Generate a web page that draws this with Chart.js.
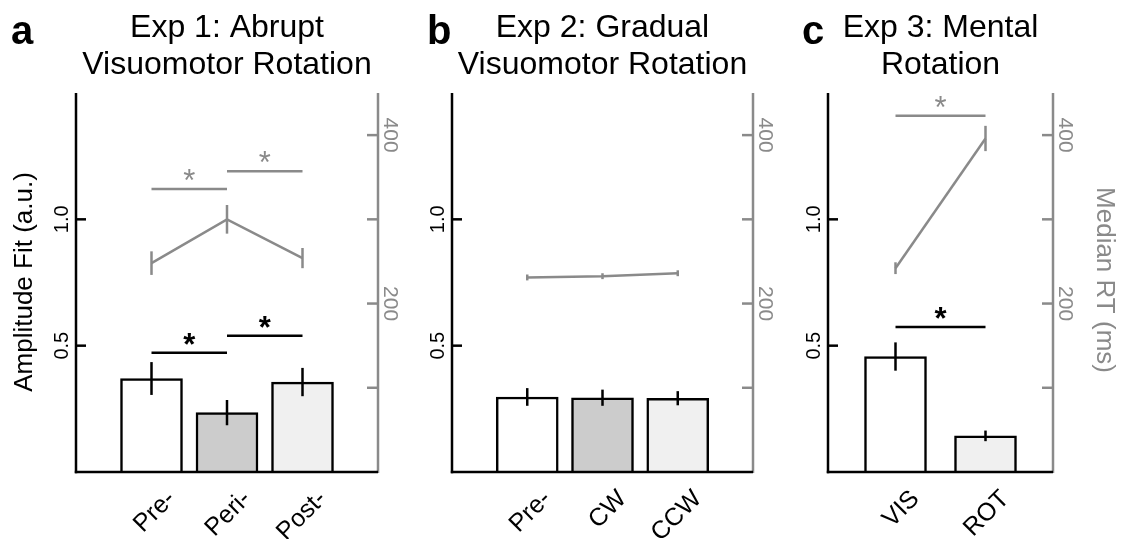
<!DOCTYPE html>
<html><head><meta charset="utf-8">
<script src="https://cdn.jsdelivr.net/npm/chart.js@4/dist/chart.umd.min.js"></script>
<style>
html,body{margin:0;padding:0;background:#fff;}
#wrap{position:relative;width:1121px;height:539px;overflow:hidden;background:#fff;}
.pane{position:absolute;top:0;height:539px;}
canvas{display:block;}
</style></head><body>
<div id="wrap">
<div class="pane" style="left:0px;width:400px"><canvas id="ca" width="400" height="539"></canvas></div>
<div class="pane" style="left:400px;width:380px"><canvas id="cb" width="380" height="539"></canvas></div>
<div class="pane" style="left:780px;width:341px"><canvas id="cc" width="341" height="539"></canvas></div>
</div>
<script>
// ---------------- data ----------------
const expA_categories = ['Pre-', 'Peri-', 'Post-'];
const expA_amp = [0.37, 0.235, 0.356];
const expA_ampErr = [0.065, 0.05, 0.056];
const expA_rt = [248, 300, 254];
const expA_rtErr = [14, 17, 12];
const expA_ampSig = [[0, 1, 0.472], [1, 2, 0.539]];
const expA_rtSig = [[0, 1, 336], [1, 2, 357]];

const expB_categories = ['Pre-', 'CW', 'CCW'];
const expB_amp = [0.297, 0.294, 0.292];
const expB_ampErr = [0.035, 0.032, 0.028];
const expB_rt = [231, 232.5, 236];
const expB_rtErr = [3.5, 3.5, 3.5];
const expB_ampSig = [];
const expB_rtSig = [];

const expC_categories = ['VIS', 'ROT'];
const expC_amp = [0.457, 0.143];
const expC_ampErr = [0.056, 0.021];
const expC_rt = [242, 396];
const expC_rtErr = [7, 15];
const expC_ampSig = [[0, 1, 0.574]];
const expC_rtSig = [[0, 1, 423]];

const ampTicks = [0.5, 1.0];
const ampTickLabels = ['0.5', '1.0'];
const rtTicks = [100, 200, 300, 400];
const rtTickLabels = ['', '200', '', '400'];
const ampRange = [0, 1.5];
const rtRange = [0, 450];

// ---------------- styles ----------------
const GRAY = '#8a8a8a';
const FONT = '"Liberation Sans", Arial, Helvetica, sans-serif';
const LW = 2.5;

const panels = [
  {canvas:'ca', letter:'a', title:['Exp 1: Abrupt','Visuomotor Rotation'], cats:expA_categories,
   amp:expA_amp, ampErr:expA_ampErr, rt:expA_rt, rtErr:expA_rtErr, ampSig:expA_ampSig, rtSig:expA_rtSig,
   colors:['#ffffff','#cccccc','#f0f0f0'], xr:[0,4], pad:{left:76,right:22,top:93,bottom:67},
   leftTitle:'Amplitude Fit (a.u.)', rightTitle:null, letterX:11},
  {canvas:'cb', letter:'b', title:['Exp 2: Gradual','Visuomotor Rotation'], cats:expB_categories,
   amp:expB_amp, ampErr:expB_ampErr, rt:expB_rt, rtErr:expB_rtErr, ampSig:expB_ampSig, rtSig:expB_rtSig,
   colors:['#ffffff','#cccccc','#f0f0f0'], xr:[0,4], pad:{left:52,right:27,top:93,bottom:67},
   leftTitle:null, rightTitle:null, letterX:27},
  {canvas:'cc', letter:'c', title:['Exp 3: Mental','Rotation'], cats:expC_categories,
   amp:expC_amp, ampErr:expC_ampErr, rt:expC_rt, rtErr:expC_rtErr, ampSig:expC_ampSig, rtSig:expC_rtSig,
   colors:['#ffffff','#f0f0f0'], xr:[0.25,2.75], pad:{left:48,right:68,top:93,bottom:67},
   leftTitle:null, rightTitle:'Median RT (ms)', letterX:22}
];

function line(ctx, x1, y1, x2, y2, color, w) {
  ctx.save(); ctx.strokeStyle = color; ctx.lineWidth = w; ctx.lineCap = 'butt';
  ctx.beginPath(); ctx.moveTo(x1, y1); ctx.lineTo(x2, y2); ctx.stroke(); ctx.restore();
}
function rtext(ctx, txt, x, y, angle, font, color, align, base) {
  ctx.save(); ctx.translate(x, y); ctx.rotate(angle);
  ctx.font = font; ctx.fillStyle = color; ctx.textAlign = align || 'center'; ctx.textBaseline = base || 'middle';
  ctx.fillText(txt, 0, 0); ctx.restore();
}

function makePlugin(p) {
  return {
    id: 'deco_' + p.canvas,
    afterDatasetsDraw(chart) {
      const ctx = chart.ctx, xs = chart.scales.x, ys = chart.scales.y, y2 = chart.scales.y2;
      const ca = chart.chartArea;
      // error bars
      p.amp.forEach((v, i) => {
        const x = xs.getPixelForValue(i + 1);
        line(ctx, x, ys.getPixelForValue(v - p.ampErr[i]), x, ys.getPixelForValue(v + p.ampErr[i]), '#000', LW);
      });
      p.rt.forEach((v, i) => {
        const x = xs.getPixelForValue(i + 1);
        line(ctx, x, y2.getPixelForValue(v - p.rtErr[i]), x, y2.getPixelForValue(v + p.rtErr[i]), GRAY, LW);
      });
      // significance stars
      p.ampSig.forEach(s => {
        const xm = (xs.getPixelForValue(s[0] + 1) + xs.getPixelForValue(s[1] + 1)) / 2;
        rtext(ctx, '*', xm, ys.getPixelForValue(s[2]) + 2, 0, 'bold 31px ' + FONT, '#000', 'center', 'alphabetic');
      });
      p.rtSig.forEach(s => {
        const xm = (xs.getPixelForValue(s[0] + 1) + xs.getPixelForValue(s[1] + 1)) / 2;
        rtext(ctx, '*', xm, y2.getPixelForValue(s[2]) + 2, 0, '31px ' + FONT, GRAY, 'center', 'alphabetic');
      });
      // axes
      line(ctx, ca.right, ca.top, ca.right, ca.bottom + 1, GRAY, LW);
      line(ctx, ca.left, ca.top, ca.left, ca.bottom + 1.2, '#000', LW);
      line(ctx, ca.left - 1.2, ca.bottom, ca.right, ca.bottom, '#000', LW);
      ampTicks.forEach((t, i) => {
        const y = ys.getPixelForValue(t);
        line(ctx, ca.left, y, ca.left + 10, y, '#000', LW);
        rtext(ctx, ampTickLabels[i], ca.left - 14, y, -Math.PI / 2, '20px ' + FONT, '#000');
      });
      rtTicks.forEach((t, i) => {
        const y = y2.getPixelForValue(t);
        line(ctx, ca.right - 11, y, ca.right, y, GRAY, LW);
        if (rtTickLabels[i]) rtext(ctx, rtTickLabels[i], ca.right + 12, y, Math.PI / 2, '21px ' + FONT, GRAY);
      });
      // x labels
      p.cats.forEach((c, i) => {
        const x = xs.getPixelForValue(i + 1);
        rtext(ctx, c, x + 20, ca.bottom + 23, -Math.PI / 4, '25px ' + FONT, '#000', 'right', 'middle');
      });
      // titles
      const cx = (ca.left + ca.right) / 2;
      rtext(ctx, p.title[0], cx, 37, 0, '32px ' + FONT, '#000', 'center', 'alphabetic');
      rtext(ctx, p.title[1], cx, 74, 0, '32px ' + FONT, '#000', 'center', 'alphabetic');
      rtext(ctx, p.letter, p.letterX, 44, 0, 'bold 40px ' + FONT, '#000', 'left', 'alphabetic');
      if (p.leftTitle) rtext(ctx, p.leftTitle, 25, 282, -Math.PI / 2, '26px ' + FONT, '#000');
      if (p.rightTitle) rtext(ctx, p.rightTitle, 324, 280, Math.PI / 2, '26px ' + FONT, GRAY);
    }
  };
}

panels.forEach(p => {
  const datasets = [];
  datasets.push({type:'bar', data:p.amp.map((v, i) => ({x:i + 1, y:v})), yAxisID:'y',
    backgroundColor:p.colors, borderColor:'#000', borderWidth:LW, barThickness:62, order:2});
  datasets.push({type:'line', data:p.rt.map((v, i) => ({x:i + 1, y:v})), yAxisID:'y2',
    borderColor:GRAY, borderWidth:LW, pointRadius:0, tension:0, fill:false, order:1});
  p.ampSig.forEach(s => datasets.push({type:'line', data:[{x:s[0] + 1, y:s[2]}, {x:s[1] + 1, y:s[2]}], yAxisID:'y',
    borderColor:'#000', borderWidth:LW, pointRadius:0, fill:false, order:1}));
  p.rtSig.forEach(s => datasets.push({type:'line', data:[{x:s[0] + 1, y:s[2]}, {x:s[1] + 1, y:s[2]}], yAxisID:'y2',
    borderColor:GRAY, borderWidth:LW, pointRadius:0, fill:false, order:1}));
  new Chart(document.getElementById(p.canvas), {
    type:'bar',
    data:{datasets},
    options:{
      responsive:false, animation:false, devicePixelRatio:1, events:[],
      layout:{padding:p.pad},
      plugins:{legend:{display:false}, tooltip:{enabled:false}, title:{display:false}},
      scales:{
        x:{type:'linear', min:p.xr[0], max:p.xr[1], display:false, offset:false},
        y:{type:'linear', min:ampRange[0], max:ampRange[1], display:false, position:'left'},
        y2:{type:'linear', min:rtRange[0], max:rtRange[1], display:false, position:'right'}
      }
    },
    plugins:[makePlugin(p)]
  });
});
</script>
</body></html>
